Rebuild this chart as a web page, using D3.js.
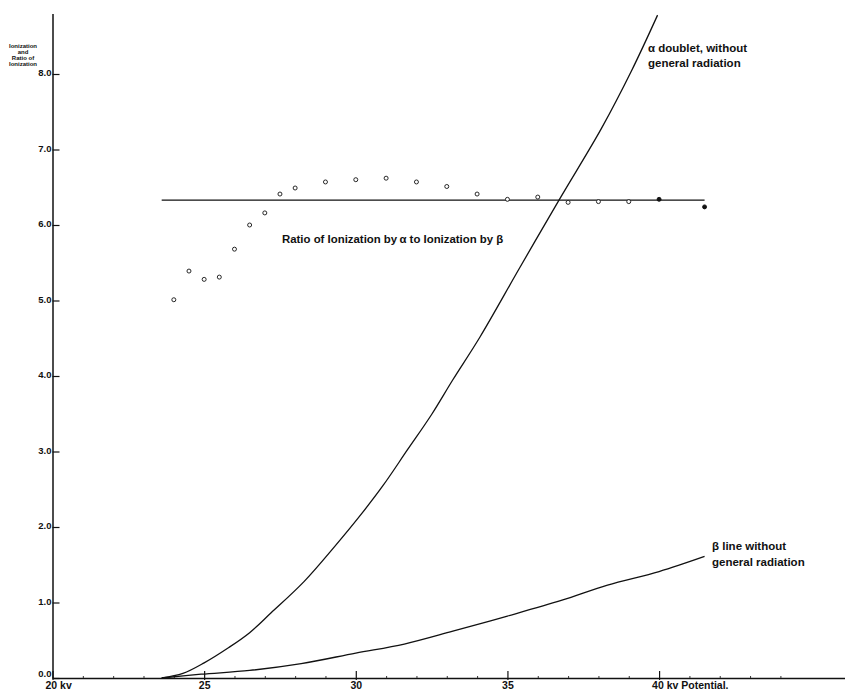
<!DOCTYPE html>
<html>
<head>
<meta charset="utf-8">
<script src="https://cdn.jsdelivr.net/npm/d3@7"></script>
<style>
body { margin: 0; background: #fff; }
text { font-family: "Liberation Sans", Arial, sans-serif; fill: #111; }
</style>
</head>
<body>
<script>
// ratio of ionization (alpha / beta), open circles
var ratioKv     = [24, 24.5, 25, 25.5, 26, 26.5, 27, 27.5, 28, 29, 30, 31, 32, 33, 34, 35, 36, 37, 38, 39, 40, 41.5];
var ratioValues = [5.01, 5.39, 5.28, 5.31, 5.68, 6.00, 6.16, 6.41, 6.49, 6.57, 6.60, 6.62, 6.57, 6.51, 6.41, 6.34, 6.37, 6.30, 6.31, 6.31, 6.34, 6.24];
var ratioMean   = 6.33;
var ratioSpan   = [23.6, 41.5];

// alpha doublet, without general radiation
var alphaKv     = [23.6, 24.3, 25, 25.8, 26.5, 27.2, 28.3, 29.3, 30.2, 30.9, 31.7, 32.5, 33.2, 34.1, 35.4, 36.7, 38.1, 39.1, 39.95];
var alphaValues = [0, 0.06, 0.20, 0.40, 0.60, 0.86, 1.28, 1.74, 2.18, 2.55, 3.02, 3.49, 3.95, 4.52, 5.43, 6.33, 7.28, 8.05, 8.78];

// beta line, without general radiation
var betaKv      = [23.6, 24.9, 26.5, 28.2, 30.0, 31.6, 33.2, 35.0, 36.8, 38.3, 40.0, 41.5];
var betaValues  = [0, 0.05, 0.10, 0.19, 0.33, 0.45, 0.62, 0.82, 1.03, 1.23, 1.41, 1.61];

var yTicks      = [0, 1, 2, 3, 4, 5, 6, 7, 8];
var xTicks      = [20, 25, 30, 35, 40];
var xTickLabels = ["20 kv", "25", "30", "35", "40 kv Potential."];

var width = 845, height = 690;

var x = d3.scaleLinear().domain([20, 46.13]).range([52.5, 845]);
var y = d3.scaleLinear().domain([0, 8.8]).range([678, 13.6]);

var svg = d3.select("body")
    .append("svg")
    .attr("width", width)
    .attr("height", height);

// x axis, major ticks
var xAxis = svg.append("g")
    .attr("transform", "translate(0," + y(0) + ")")
    .call(d3.axisBottom(x)
        .tickValues(xTicks)
        .tickFormat(function(d, i) { return xTickLabels[i]; })
        .tickSizeInner(-7)
        .tickSizeOuter(0)
        .tickPadding(10.5));

xAxis.select(".domain").attr("stroke", "#111").attr("stroke-width", 1.5);
xAxis.selectAll(".tick line").attr("stroke", "#111").attr("stroke-width", 1.2).attr("y1", 2);
xAxis.selectAll(".tick text")
    .attr("dy", 0)
    .style("font-size", "10.5px")
    .style("font-weight", "bold")
    .attr("text-anchor", function(d, i) { return xTickLabels[i].length > 2 ? "start" : "middle"; })
    .attr("dx", function(d, i) { return xTickLabels[i].length > 2 ? -7.5 : 0; });

// x axis, minor ticks every kv
var minor = d3.range(21, 46).filter(function(d) { return d % 5 != 0; });
var xMinor = svg.append("g")
    .attr("transform", "translate(0," + y(0) + ")")
    .call(d3.axisBottom(x).tickValues(minor).tickSizeInner(-2).tickSizeOuter(0).tickFormat(""));
xMinor.select(".domain").remove();
xMinor.selectAll(".tick line").attr("stroke", "#333");

// y axis
var yAxis = svg.append("g")
    .attr("transform", "translate(" + x(20) + ",0)")
    .call(d3.axisLeft(y)
        .tickValues(yTicks)
        .tickFormat(d3.format(".1f"))
        .tickSizeInner(-7)
        .tickSizeOuter(0)
        .tickPadding(1));

yAxis.select(".domain").attr("stroke", "#111").attr("stroke-width", 1.5);
yAxis.selectAll(".tick line").attr("stroke", "#111").attr("stroke-width", 1.2);
yAxis.selectAll(".tick text")
    .style("font-size", "9.5px")
    .style("font-weight", "bold")
    .attr("dy", function(d) { return d == 0 ? "-0.15em" : "0.2em"; });

// y axis title
var yTitle = svg.append("text")
    .attr("text-anchor", "middle")
    .style("font-size", "6px")
    .style("font-weight", "bold");
["Ionization", "and", "Ratio of", "Ionization"].forEach(function(t, i) {
    yTitle.append("tspan").attr("x", 23).attr("y", 48 + i * 6).text(t);
});

// curves
var line = d3.line()
    .x(function(d) { return x(d[0]); })
    .y(function(d) { return y(d[1]); })
    .curve(d3.curveCatmullRom.alpha(0.5));

svg.append("path")
    .datum(d3.zip(alphaKv, alphaValues))
    .attr("d", line)
    .attr("fill", "none")
    .attr("stroke", "#111")
    .attr("stroke-width", 1.3);

svg.append("path")
    .datum(d3.zip(betaKv, betaValues))
    .attr("d", line)
    .attr("fill", "none")
    .attr("stroke", "#111")
    .attr("stroke-width", 1.3);

// mean ratio line
svg.append("path")
    .datum(ratioSpan.map(function(k) { return [k, ratioMean]; }))
    .attr("d", line)
    .attr("fill", "none")
    .attr("stroke", "#111")
    .attr("stroke-width", 1.4);

// ratio points
svg.selectAll(".pt")
    .data(d3.zip(ratioKv, ratioValues))
    .enter()
    .append("circle")
    .attr("class", "pt")
    .attr("cx", function(d) { return x(d[0]); })
    .attr("cy", function(d) { return y(d[1]); })
    .attr("r", 2)
    .attr("fill", function(d) { return d[0] >= 40 ? "#111" : "#fff"; })
    .attr("stroke", "#111")
    .attr("stroke-width", 0.9);

// annotations
svg.append("text")
    .attr("x", 282)
    .attr("y", 243)
    .style("font-size", "11.4px")
    .style("font-weight", "bold")
    .text("Ratio of Ionization by\u2009\u03b1 to Ionization by \u03b2");

var aLabel = svg.append("text")
    .style("font-size", "11.5px")
    .style("font-weight", "bold");
aLabel.append("tspan").attr("x", 648).attr("y", 52).text("\u03b1 doublet, without");
aLabel.append("tspan").attr("x", 648).attr("y", 67).text("general radiation");

var bLabel = svg.append("text")
    .style("font-size", "11.5px")
    .style("font-weight", "bold");
bLabel.append("tspan").attr("x", 712).attr("y", 550).text("\u03b2 line without");
bLabel.append("tspan").attr("x", 712).attr("y", 566).text("general radiation");
</script>
</body>
</html>
